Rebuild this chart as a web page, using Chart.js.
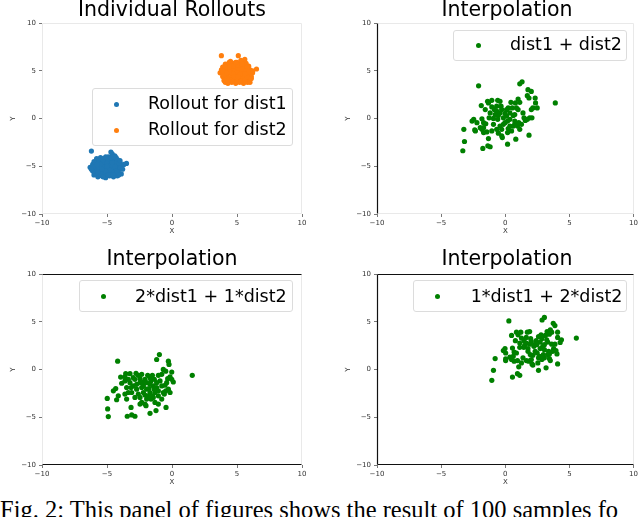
<!DOCTYPE html>
<html><head><meta charset="utf-8">
<script src="https://cdn.jsdelivr.net/npm/chart.js@4.4.0/dist/chart.umd.min.js"></script>
<style>
html,body{margin:0;padding:0;background:#fff;width:640px;height:517px;overflow:hidden;position:relative;font-family:"DejaVu Sans",sans-serif;}
canvas{position:absolute;}
.title{position:absolute;font-size:20.5px;line-height:20.5px;white-space:nowrap;transform:translateX(-50%);color:#000;}
.legend{position:absolute;border:1px solid #dcdcdc;border-radius:3px;background:rgba(255,255,255,0.8);box-sizing:border-box;}
.lrow{position:absolute;font-size:17.5px;line-height:17.5px;white-space:nowrap;color:#000;}
.dot{position:absolute;width:5px;height:5px;border-radius:50%;}
.caption{position:absolute;left:0;top:497.5px;font-family:"Liberation Serif",serif;font-size:24.5px;line-height:24.5px;white-space:nowrap;color:#000;}
</style>
</head><body>
<canvas id="c1" width="320" height="224" style="left:0;top:16px"></canvas>
<canvas id="c2" width="320" height="224" style="left:320px;top:16px"></canvas>
<canvas id="c3" width="320" height="224" style="left:0;top:267px"></canvas>
<canvas id="c4" width="320" height="224" style="left:320px;top:267px"></canvas>
<div id="overlay"></div>
<div class="caption" id="caption">Fig. 2: This panel of figures shows the result of 100 samples fo</div>
<script>
// ---------------- data ----------------
const axisMin = -10, axisMax = 10, axisStep = 5;
const panelTitles = ["Individual Rollouts", "Interpolation", "Interpolation", "Interpolation"];
const seriesLabels = ["Rollout for dist1", "Rollout for dist2", "dist1 + dist2", "2*dist1 + 1*dist2", "1*dist1 + 2*dist2"];

const rolloutDist1 = [[-6.2,-3.4],[-4.7,-3.5],[-4.6,-3.7],[-3.5,-4.7],[-3.7,-4.8],[-5.8,-4.2],[-5.5,-4.1],[-5.2,-4.3],[-4.9,-4.0],[-4.4,-3.9],[-4.2,-4.3],[-4.0,-4.6],[-3.9,-5.0],[-4.1,-5.4],[-3.9,-5.8],[-4.2,-6.0],[-4.5,-6.1],[-4.8,-6.0],[-5.1,-6.2],[-5.4,-6.0],[-5.7,-6.1],[-6.0,-5.9],[-6.1,-5.5],[-6.3,-5.1],[-6.1,-4.8],[-6.0,-4.5],[-5.7,-4.6],[-5.4,-4.7],[-5.1,-4.6],[-4.8,-4.5],[-4.5,-4.4],[-4.3,-4.8],[-4.6,-5.0],[-4.9,-5.1],[-5.2,-5.0],[-5.5,-5.1],[-5.8,-5.0],[-5.9,-5.3],[-5.6,-5.4],[-5.3,-5.5],[-5.0,-5.4],[-4.7,-5.5],[-4.4,-5.3],[-4.2,-5.1],[-4.4,-5.7],[-4.7,-5.8],[-5.0,-5.8],[-5.3,-5.9],[-5.6,-5.7],[-5.9,-5.7],[-5.6,-4.9],[-5.3,-4.2],[-5.0,-4.2],[-4.8,-4.8],[-4.5,-4.7],[-4.3,-4.5],[-5.4,-5.2],[-5.1,-5.2],[-4.8,-5.2],[-4.5,-5.1],[-5.7,-5.2],[-6.0,-5.1],[-5.2,-4.8],[-4.9,-4.4],[-4.6,-4.2],[-4.1,-4.7],[-4.0,-5.2],[-4.3,-5.5],[-4.6,-5.6],[-4.9,-5.6],[-5.2,-5.7],[-5.5,-5.8],[-5.8,-5.5],[-6.1,-5.0],[-5.9,-4.7],[-5.6,-4.4],[-5.3,-4.5],[-5.0,-4.7],[-4.7,-4.9],[-4.4,-5.0],[-4.2,-5.6],[-4.5,-5.9],[-4.8,-5.4],[-5.1,-5.5],[-5.4,-5.3],[-5.7,-5.6],[-5.0,-5.0],[-4.6,-4.6],[-5.5,-4.8],[-6.2,-5.3],[-4.3,-4.1],[-4.0,-4.4],[-3.8,-5.3],[-4.1,-5.9],[-5.3,-6.1],[-5.8,-4.8],[-5.1,-4.0],[-4.7,-4.1],[-4.5,-4.0],[-4.9,-5.9]];

const rolloutDist2 = [[3.8,6.6],[5.1,6.6],[6.5,5.2],[3.7,4.8],[3.9,4.4],[4.0,4.0],[4.1,3.8],[4.3,3.7],[4.6,3.8],[4.9,3.7],[5.2,3.8],[5.5,3.7],[5.8,3.8],[6.0,3.8],[5.9,4.1],[6.1,4.4],[6.2,4.8],[6.0,5.1],[5.9,5.5],[5.7,5.8],[5.5,6.0],[5.2,5.8],[5.0,5.9],[4.7,5.8],[4.4,5.9],[4.1,5.7],[3.9,5.4],[3.8,5.1],[4.0,5.0],[4.3,5.2],[4.6,5.3],[4.9,5.5],[5.2,5.4],[5.5,5.3],[5.8,5.1],[5.7,4.8],[5.4,4.9],[5.1,5.0],[4.8,4.9],[4.5,4.8],[4.2,4.6],[4.4,4.3],[4.7,4.4],[5.0,4.5],[5.3,4.4],[5.6,4.5],[5.9,4.6],[5.7,4.2],[5.4,4.1],[5.1,4.1],[4.8,4.0],[4.5,4.0],[4.2,4.2],[4.0,4.6],[4.3,5.6],[4.6,5.6],[4.9,5.2],[5.2,5.1],[5.5,5.6],[5.6,6.2],[5.8,5.4],[6.0,4.6],[5.5,4.3],[5.0,4.2],[4.6,4.6],[4.2,5.0],[4.5,5.1],[4.8,5.2],[5.1,5.3],[5.4,5.2],[5.7,5.0],[5.9,4.9],[5.3,4.7],[5.0,4.8],[4.7,4.7],[4.4,4.9],[4.1,5.2],[3.9,4.7],[4.3,4.0],[4.7,3.9],[5.0,3.9],[5.3,3.9],[5.6,4.0],[5.8,4.4],[6.1,4.2],[5.3,6.1],[5.0,5.6],[4.7,5.5],[4.4,5.4],[4.1,5.4],[3.9,5.0],[4.2,4.8],[4.8,4.4],[5.2,4.6],[5.6,4.7],[6.2,5.0],[5.4,5.7],[4.9,5.9],[4.5,6.0],[5.1,4.4]];

const interpEqual = [[-2.08,3.44],[1.13,3.65],[1.31,3.85],[1.77,3.03],[2.03,2.85],[1.72,2.4],[1.85,2.16],[2.33,2.16],[2.36,1.64],[2.49,1.12],[3.9,1.64],[2.03,0.95],[1.9,0.08],[2.08,0.08],[1.56,-0.19],[1.85,-1.74],[0.82,-2.16],[0.18,-2.68],[-1.31,-2.09],[-1.18,-2.95],[-1.36,-2.85],[-1.75,-3.13],[-3.31,-3.37],[-3.18,-2.4],[-3.23,-1.12],[-2.38,-1.19],[-2.59,-0.26],[-2.46,-0.08],[-1.82,-0.02],[-1.69,-0.43],[-1.69,-0.95],[-1.69,-1.47],[-1.44,-1.4],[-1.52,-0.54],[-1.26,0.08],[-0.92,0.02],[-0.59,-0.08],[-0.41,-0.78],[-0.54,-1.53],[-0.28,-1.81],[-0.23,-1.99],[0.23,-1.05],[0.49,-1.29],[0.62,-0.78],[0.95,-0.78],[1.13,-1.12],[1.05,-0.43],[0.74,-0.26],[0.36,-0.08],[-0.02,-0.43],[-0.15,0.08],[0.1,0.26],[0.36,0.6],[0.23,1.12],[0.44,1.71],[0.79,1.64],[0.87,1.12],[1.13,1.71],[1.0,0.95],[0.74,0.43],[-0.41,1.81],[-0.59,1.92],[-1.05,1.92],[-1.38,1.81],[-1.87,1.37],[-1.56,0.95],[-1.05,1.22],[-0.85,0.95],[-0.67,0.78],[-0.41,0.6],[-0.28,0.95],[-0.79,0.43],[-1.18,0.6],[-0.02,0.54],[-0.28,-1.12],[0.18,-1.47],[0.62,0.33],[1.38,0.6],[1.72,-0.08],[1.26,-0.6],[-2.21,-0.43],[-1.82,-1.12],[-0.67,-1.12],[-1.05,-1.29],[0.1,0.95],[0.54,1.12],[1.0,2.05],[-1.31,1.64],[-0.67,1.3],[-0.15,-0.6],[0.36,-0.78],[1.46,0.08],[-1.95,-0.95],[-0.54,0.33],[0.18,-0.26],[2.15,1.12],[-2.33,-1.29],[0.74,-0.6],[-0.92,-0.6],[-0.33,1.3]];

const interpTwoOne = [[-4.18,0.88],[-0.97,1.57],[-1.18,1.06],[-0.28,0.88],[-0.23,0.54],[-0.67,0.02],[-0.48,-0.16],[-0.02,-0.26],[-0.15,-0.75],[0.1,-1.3],[1.56,-0.6],[-0.41,-1.37],[-0.48,-2.23],[-0.67,-2.4],[-1.05,-2.75],[-0.46,-3.96],[-1.23,-4.3],[-1.69,-4.58],[-2.0,-3.78],[-3.15,-3.96],[-3.1,-4.75],[-2.85,-4.89],[-3.44,-4.89],[-4.9,-4.92],[-4.95,-4.12],[-4.98,-3.02],[-4.26,-3.16],[-4.51,-2.23],[-4.33,-1.99],[-3.87,-1.43],[-3.95,-0.78],[-3.56,-0.43],[-3.23,-0.43],[-2.77,-0.39],[-2.59,-0.6],[-3.62,-1.19],[-3.49,-1.88],[-3.36,-2.4],[-3.62,-2.57],[-3.49,-3.09],[-3.1,-2.4],[-2.98,-1.71],[-2.85,-1.02],[-2.46,-1.37],[-2.33,-1.88],[-2.72,-2.05],[-2.2,-2.4],[-1.95,-2.05],[-1.69,-2.4],[-1.51,-2.75],[-1.82,-2.75],[-2.33,-3.44],[-2.46,-3.61],[-2.08,-3.61],[-1.31,-3.44],[-1.05,-3.61],[-1.31,-2.4],[-1.18,-1.88],[-1.44,-1.71],[-1.69,-1.54],[-1.95,-1.37],[-2.08,-1.02],[-1.87,-0.6],[-1.51,-0.6],[-1.36,-1.02],[-1.69,-0.85],[-1.05,-0.6],[-0.92,-1.19],[-0.79,-1.71],[-1.05,-2.23],[-2.33,-0.5],[-2.98,-0.85],[-3.23,-1.37],[-2.72,-1.54],[-2.2,-1.71],[-2.59,-2.57],[-2.85,-2.92],[-1.95,-3.09],[-1.62,-3.09],[-1.44,-2.92],[-0.79,-3.09],[-0.59,-2.57],[-0.28,-2.05],[-0.15,-2.4],[-0.02,-1.02],[-0.33,-0.95],[-3.62,-0.75],[-2.2,-1.3],[-1.77,-1.99],[-1.36,-2.05],[-2.46,-2.92],[-3.15,-1.88],[-2.08,-2.67],[-1.62,-1.19],[-1.18,-1.37],[-0.79,-0.5],[-2.46,-0.95],[-3.36,-1.02],[-4.13,-2.75],[-0.54,-1.64]];

const interpOneTwo = [[0.28,5.1],[2.87,5.2],[3.05,5.47],[3.74,4.85],[3.87,4.61],[3.51,4.17],[3.62,3.92],[4.08,3.92],[4.08,3.37],[4.28,2.85],[5.54,3.3],[3.87,2.67],[3.69,1.92],[3.95,1.99],[3.44,1.64],[4.08,0.6],[3.18,0.19],[2.59,-0.08],[1.05,0.29],[1.13,-0.6],[0.95,-0.43],[0.56,-0.78],[-1.05,-1.12],[-0.92,-0.08],[-0.79,1.16],[0.03,1.12],[-0.15,1.99],[-0.02,2.2],[0.56,2.26],[0.69,1.84],[0.62,1.4],[0.69,0.88],[0.95,0.95],[0.87,1.74],[1.13,2.33],[1.44,2.33],[1.77,2.2],[1.95,1.57],[1.82,0.88],[2.08,0.6],[2.15,0.47],[2.59,1.23],[2.85,1.06],[2.97,1.57],[3.31,1.57],[3.44,1.16],[3.38,1.92],[3.05,2.09],[2.72,2.2],[2.33,1.92],[2.23,2.44],[2.46,2.61],[2.72,2.88],[2.59,3.47],[2.79,3.65],[3.13,3.58],[3.23,3.13],[3.44,3.71],[3.31,2.88],[3.05,2.61],[1.9,3.99],[1.72,3.92],[1.21,3.92],[0.87,3.92],[0.49,3.58],[0.79,3.03],[1.26,3.3],[1.46,3.03],[1.64,2.78],[1.9,2.67],[2.03,2.95],[1.51,2.54],[1.13,2.78],[2.28,2.61],[2.03,1.06],[2.54,0.7],[2.92,2.44],[3.62,2.67],[4.03,1.64],[3.51,0.95],[0.03,1.74],[0.49,1.06],[1.64,0.95],[1.26,0.7],[2.41,3.03],[2.85,3.24],[3.26,3.99],[1.0,3.65],[1.64,3.37],[2.15,1.5],[2.67,1.4],[3.77,2.2],[0.36,1.3],[1.77,1.92],[2.49,1.74],[4.38,3.13],[0.03,0.95],[3.05,1.23],[1.38,1.23],[1.98,3.24]];

const blueColor = "#1f77b4", orangeColor = "#ff7f0e", greenColor = "#008000";

// ---------------- chart helpers ----------------
const toPts = arr => arr.map(p => ({x: p[0], y: p[1]}));
const fmt = v => (v < 0 ? "\u2212" + Math.abs(v) : String(v));

const spinePlugin = {
  id: "spines",
  beforeDatasetsDraw(chart, args, opts) {
    const {ctx, chartArea: {left, right, top, bottom}} = chart;
    const dark = opts.dark || [];
    ctx.save();
    const seg = (x1, y1, x2, y2, side) => {
      ctx.beginPath();
      ctx.strokeStyle = dark.includes(side) ? "#111" : "#e9e9e9";
      ctx.lineWidth = dark.includes(side) ? 1.2 : 1;
      ctx.moveTo(x1, y1); ctx.lineTo(x2, y2); ctx.stroke();
    };
    const l = Math.round(left) + 0.5, r = Math.round(right) - 0.5, t = Math.round(top) + 0.5, b = Math.round(bottom) - 0.5;
    ["top","right","bottom","left"].filter(s => !dark.includes(s)).concat(dark).forEach(s => {
      if (s === "top") seg(l, t, r, t, s);
      if (s === "right") seg(r, t, r, b, s);
      if (s === "bottom") seg(l, b, r, b, s);
      if (s === "left") seg(l, t, l, b, s);
    });
    ctx.restore();
  }
};

function makeChart(id, datasets, yAxisWidth, padRight, yTitlePad, darkSides) {
  const tickFont = {family: "DejaVu Sans", size: 7};
  const common = {
    type: "linear", min: axisMin, max: axisMax,
    border: {display: false},
    grid: {display: true, drawOnChartArea: false, drawTicks: true, tickLength: 3, color: "#555", lineWidth: 0.8},
  };
  return new Chart(document.getElementById(id), {
    type: "scatter",
    data: {datasets},
    options: {
      responsive: false, animation: false, devicePixelRatio: 1,
      layout: {padding: {top: 5, right: padRight, left: 0, bottom: 0}},
      plugins: {legend: {display: false}, title: {display: false}, tooltip: {enabled: false}, spines: {dark: darkSides}},
      scales: {
        x: Object.assign({}, common, {
          position: "bottom",
          ticks: {stepSize: axisStep, font: tickFont, color: "#333", padding: 2, maxRotation: 0, autoSkip: false, callback: fmt},
          title: {display: true, text: "X", font: tickFont, color: "#333", padding: {top: 0, bottom: 4.8}},
          afterFit: s => { s.height = 26; }
        }),
        y: Object.assign({}, common, {
          position: "left",
          ticks: {stepSize: axisStep, font: tickFont, color: "#333", padding: 3, autoSkip: false, callback: fmt},
          title: {display: true, text: "Y", font: tickFont, color: "#333", padding: {top: yTitlePad, bottom: 0}},
          afterFit: s => { s.width = yAxisWidth; }
        })
      }
    },
    plugins: [spinePlugin]
  });
}

const ds = (label, arr, color) => ({label, data: toPts(arr), backgroundColor: color, borderColor: color, pointRadius: 2.6, pointBorderWidth: 0, pointHoverRadius: 2.6});

makeChart("c1", [ds(seriesLabels[0], rolloutDist1, blueColor), ds(seriesLabels[1], rolloutDist2, orangeColor)], 42, 18, 8.5, []);
makeChart("c2", [ds(seriesLabels[2], interpEqual, greenColor)], 57, 3, 24, ["left"]);
makeChart("c3", [ds(seriesLabels[3], interpTwoOne, greenColor)], 42, 18, 8.5, ["top","bottom"]);
makeChart("c4", [ds(seriesLabels[4], interpOneTwo, greenColor)], 57, 3, 24, ["top","left","bottom"]);

// ---------------- overlays: titles and legends ----------------
const ov = document.getElementById("overlay");
function addTitle(text, cx, baseline) {
  const d = document.createElement("div");
  d.className = "title"; d.textContent = text;
  d.style.left = cx + "px"; d.style.top = (baseline - 17.3) + "px";
  ov.appendChild(d);
}
function addLegend(box, rows) {
  const b = document.createElement("div");
  b.className = "legend";
  b.style.left = box[0] + "px"; b.style.top = box[1] + "px";
  b.style.width = (box[2] - box[0]) + "px"; b.style.height = (box[3] - box[1]) + "px";
  ov.appendChild(b);
  rows.forEach(r => {
    const dot = document.createElement("div");
    dot.className = "dot"; dot.style.background = r.color;
    dot.style.left = (r.dotX - 2.5) + "px"; dot.style.top = (r.dotY - 2.5) + "px";
    ov.appendChild(dot);
    const t = document.createElement("div");
    t.className = "lrow"; t.textContent = r.text;
    t.style.left = r.textX + "px"; t.style.top = (r.baseline - 14.8) + "px";
    ov.appendChild(t);
  });
}
addTitle(panelTitles[0], 172, 16);
addTitle(panelTitles[1], 507, 16);
addTitle(panelTitles[2], 172, 265.7);
addTitle(panelTitles[3], 507, 265.7);

addLegend([92, 88, 293, 146], [
  {color: blueColor, dotX: 116, dotY: 104.3, text: seriesLabels[0], textX: 148, baseline: 110},
  {color: orangeColor, dotX: 116, dotY: 130.5, text: seriesLabels[1], textX: 148, baseline: 136}
]);
addLegend([453, 29.5, 627, 61], [
  {color: greenColor, dotX: 478, dotY: 45.3, text: seriesLabels[2], textX: 510, baseline: 50.5}
]);
addLegend([79, 280, 293, 312], [
  {color: greenColor, dotX: 103.7, dotY: 296.7, text: seriesLabels[3], textX: 135, baseline: 302.3}
]);
addLegend([413.3, 280, 627.3, 312], [
  {color: greenColor, dotX: 437.7, dotY: 296.7, text: seriesLabels[4], textX: 470.7, baseline: 302.3}
]);
</script>
</body></html>
